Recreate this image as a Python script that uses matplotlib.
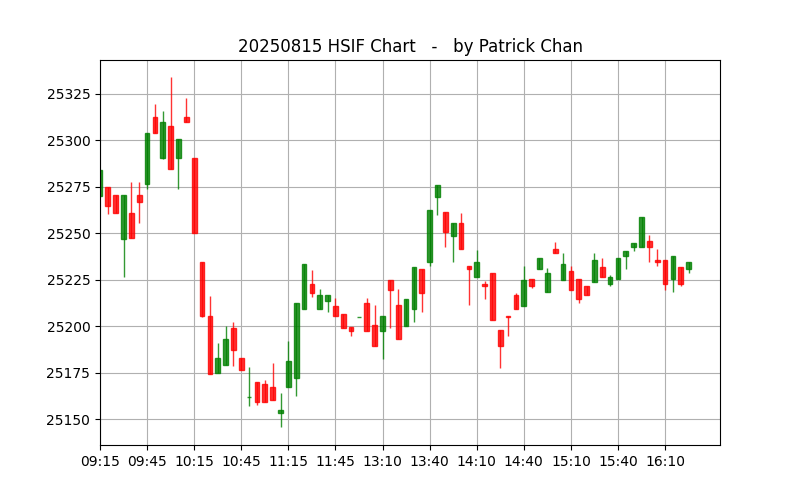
import matplotlib
matplotlib.use('Agg')
import matplotlib.pyplot as plt
import numpy as np

# 5-min bars, 20250815 HSIF
opens = [25270, 25275, 25270.6, 25247, 25261, 25270.6, 25276.4, 25312.7, 25290.3, 25307.7,
         25290.3, 25312.5, 25290.5, 25234.7, 25205.7, 25175, 25179, 25198.8, 25182.7, 25161.8,
         25169.8, 25168.7, 25167.1, 25153.2, 25167.1, 25172, 25209, 25222.9, 25209, 25213.8,
         25211.1, 25206.8, 25199.7, 25204.7, 25212.7, 25200.9, 25197.5, 25224.7, 25211.6, 25200,
         25209, 25231, 25234.7, 25269.6, 25261.5, 25248.7, 25255.6, 25232.6, 25226.7, 25222.9,
         25228.8, 25197.7, 25205.7, 25217, 25211.1, 25225.6, 25231, 25218.6, 25241.7, 25225.1,
         25229.9, 25225.6, 25221.8, 25224, 25232, 25222.9, 25225.2, 25237.9, 25242.8, 25242.8,
         25246, 25235.8, 25235.8, 25225.4, 25232, 25231]
closes = [25284, 25264.6, 25260.8, 25270.6, 25247.4, 25266.7, 25304.1, 25303.7, 25310, 25284.6,
          25300.7, 25309.8, 25250.1, 25205.7, 25174.1, 25182.7, 25192.9, 25187, 25176.6, 25161.8,
          25159.1, 25159.1, 25160.1, 25154.8, 25181.1, 25212.7, 25233.6, 25218.1, 25217, 25217,
          25205.7, 25198.8, 25197.5, 25204.7, 25197.5, 25189.1, 25205.7, 25219.7, 25192.9, 25214.9,
          25232, 25218.1, 25262.6, 25276, 25250.8, 25255.6, 25241.7, 25231, 25234.7, 25221.8,
          25203.1, 25189.6, 25204.7, 25209, 25224.7, 25221.8, 25236.9, 25228.8, 25239.5, 25233.6,
          25219.7, 25214.9, 25217, 25235.8, 25226.7, 25226.7, 25236.9, 25240.6, 25244.9, 25258.8,
          25242.8, 25234.7, 25222.9, 25237.9, 25222.9, 25234.7]
highs = [25284, 25275, 25270.6, 25270.6, 25277.8, 25277.8, 25304.1, 25319.8, 25315.9, 25333.8,
         25300.7, 25322.9, 25290.5, 25234.7, 25216.1, 25190.9, 25200, 25202.2, 25182.7, 25177.8,
         25169.8, 25171.1, 25180.2, 25164.1, 25192, 25212.7, 25233.6, 25230.1, 25219.9, 25217,
         25215, 25206.8, 25199.7, 25204.7, 25215, 25211.3, 25205.7, 25224.7, 25219.9, 25214.9,
         25232, 25231, 25262.6, 25276, 25261.5, 25255.6, 25261, 25232.6, 25240.8, 25224.2,
         25228.8, 25197.7, 25205.7, 25218.1, 25232.2, 25225.6, 25236.9, 25231.1, 25245.1, 25239.2,
         25232.6, 25225.6, 25221.8, 25239.2, 25236.9, 25227.7, 25236.9, 25240.6, 25244.9, 25258.8,
         25248.8, 25241.7, 25235.8, 25237.9, 25232, 25234.7]
lows = [25270, 25260.6, 25260.8, 25226.5, 25247.4, 25255.3, 25273.7, 25303.7, 25289.8, 25284.6,
        25273.7, 25309.8, 25250.1, 25204.7, 25174.1, 25175, 25178.9, 25178.7, 25176.6, 25156.8,
        25157.8, 25159.1, 25160.1, 25145.5, 25167.1, 25162.6, 25209, 25215.8, 25209, 25207.7,
        25205.7, 25198.8, 25194.8, 25204.7, 25197.5, 25189.1, 25182.3, 25198.8, 25192.9, 25200,
        25202, 25207.7, 25232.4, 25259.7, 25242.6, 25234.7, 25241.7, 25211.5, 25226.7, 25214.9,
        25203.1, 25177.7, 25194.8, 25209, 25211.1, 25220.6, 25231, 25218.6, 25239.5, 25225.1,
        25219.7, 25212.5, 25217, 25224, 25226.7, 25221.8, 25225.2, 25231, 25240.4, 25242.8,
        25234.7, 25232.6, 25219.7, 25218.6, 25221.8, 25228.8]

tick_labels = ['09:15', '09:45', '10:15', '10:45', '11:15', '11:45', '13:10',
               '13:40', '14:10', '14:40', '15:10', '15:40', '16:10']

o = np.array(opens)
c = np.array(closes)
h = np.array(highs)
l = np.array(lows)
x = np.arange(len(o))
up = c >= o
col = np.where(up, 'green', 'red')

fig, ax = plt.subplots(figsize=(8, 5), dpi=100)
ax.vlines(x, l, h, colors=col, linewidth=1, alpha=0.8)
ax.bar(x, c - o, bottom=o, width=0.6, color=col, edgecolor=col, linewidth=1, alpha=0.8)

ax.set_xticks(np.arange(0, len(o), 6)[:len(tick_labels)])
ax.set_xticklabels(tick_labels)
ax.set_xlim(0, len(o) + 3)
ax.grid(True)
ax.set_axisbelow(True)
ax.set_title('20250815 HSIF Chart   -   by Patrick Chan')
plt.savefig('out.png', dpi=100)
